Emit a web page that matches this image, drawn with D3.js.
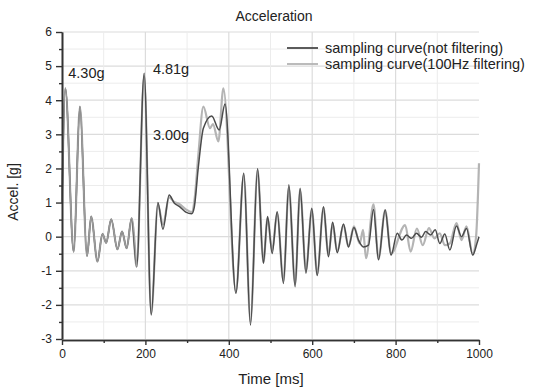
<!DOCTYPE html>
<html>
<head>
<meta charset="utf-8">
<script src="https://cdn.jsdelivr.net/npm/d3@7/dist/d3.min.js"></script>
<style>
  html, body { margin: 0; padding: 0; background: #fff; }
  svg { display: block; font-family: "Liberation Sans", Arial, sans-serif; }
</style>
</head>
<body>
<svg id="chart" width="540" height="389"></svg>
<script>
// ---- data ----
const timeNotFiltered = [0, 8, 28, 43, 60, 70, 85, 97, 106, 118, 133, 144, 155, 167, 179, 197, 214, 230, 242, 257, 269, 282, 297, 311, 317, 327, 339, 359, 377, 391, 417, 436, 452, 469, 483, 493, 504, 516, 531, 544, 559, 571, 585, 599, 612, 627, 639, 649, 660, 675, 687, 700, 711, 723, 735, 747, 759, 775, 789, 804, 815, 826, 838, 850, 862, 872, 884, 895, 906, 918, 930, 946, 958, 970, 985, 995, 1000];
const accelNotFiltered = [1.0, 4.35, -0.44, 3.81, -0.57, 0.59, -0.73, 0.08, -0.18, 0.51, -0.37, 0.15, -0.34, 0.54, -0.88, 4.79, -2.3, 1.0, 0.22, 1.22, 0.99, 0.88, 0.72, 0.67, 0.85, 2.05, 3.18, 3.54, 3.13, 3.89, -1.66, 1.86, -2.59, 2.0, -0.78, 0.59, -0.49, 0.73, -1.37, 1.52, -1.47, 1.42, -1.07, 0.83, -1.14, 0.88, -0.59, 0.42, -0.47, 0.37, -0.3, 0.27, -0.1, -0.3, -0.25, 0.8, -0.68, 0.78, -0.54, 0.1, -0.1, 0.05, -0.05, 0.1, -0.02, 0.15, 0.05, 0.2, -0.2, 0.08, -0.39, 0.31, 0.0, 0.24, -0.54, -0.2, 0.0];

const timeFiltered = [0, 8, 28, 43, 60, 70, 85, 97, 106, 118, 133, 144, 155, 167, 179, 197, 214, 230, 242, 257, 269, 282, 297, 311, 318, 327, 339, 355, 362, 375, 387, 417, 436, 452, 469, 483, 493, 504, 516, 531, 544, 559, 571, 585, 599, 612, 627, 639, 649, 660, 675, 687, 700, 714, 722, 729, 747, 759, 775, 789, 823, 836, 851, 865, 880, 893, 906, 918, 930, 946, 958, 970, 985, 993, 1000];
const accelFiltered = [1.0, 4.35, -0.44, 3.81, -0.57, 0.59, -0.73, 0.08, -0.18, 0.51, -0.37, 0.15, -0.34, 0.54, -0.88, 4.7, -2.25, 0.95, 0.35, 1.15, 1.02, 0.95, 0.8, 0.72, 1.1, 2.4, 3.81, 3.18, 3.3, 2.79, 4.35, -1.6, 1.8, -2.5, 1.95, -0.75, 0.55, -0.4, 0.7, -1.3, 1.45, -1.4, 1.38, -1.0, 0.8, -1.1, 0.85, -0.55, 0.4, -0.45, 0.35, -0.3, 0.3, -0.2, 0.2, -0.63, 0.95, -0.65, 0.78, -0.5, 0.34, -0.44, 0.24, -0.25, 0.25, -0.05, 0.1, -0.25, -0.2, 0.4, -0.1, 0.3, -0.5, 0.0, 2.15];

const yMajorTicks = [-3, -2, -1, 0, 1, 2, 3, 4, 5, 6];
const yMinorTicks = [-2.5, -1.5, -0.5, 0.5, 1.5, 2.5, 3.5, 4.5, 5.5];
const xMajorTicks = [0, 200, 400, 600, 800, 1000];
const xMinorTicks = [100, 300, 500, 700, 900];

const annotations = [
  { label: "4.30g", t: 15, v: 4.66 },
  { label: "4.81g", t: 218, v: 4.78 },
  { label: "3.00g", t: 218, v: 2.83 }
];
const seriesNames = ["sampling curve(not filtering)", "sampling curve(100Hz filtering)"];

// ---- chart ----
const svg = d3.select("#chart");
const x = d3.scaleLinear().domain([0, 1000]).range([62, 479]);
const y = d3.scaleLinear().domain([-3, 6]).range([339, 32]);

// grid
const grid = svg.append("g");
grid.selectAll("line.hmin").data(yMinorTicks).join("line")
  .attr("x1", x(0)).attr("x2", x(1000)).attr("y1", d => y(d)).attr("y2", d => y(d))
  .attr("stroke", "#ececec").attr("stroke-width", 1);
grid.selectAll("line.hmaj").data(yMajorTicks.filter(d => d > -3)).join("line")
  .attr("x1", x(0)).attr("x2", x(1000)).attr("y1", d => y(d)).attr("y2", d => y(d))
  .attr("stroke", "#dcdcdc").attr("stroke-width", 1.2);
grid.selectAll("line.vmin").data(xMinorTicks).join("line")
  .attr("x1", d => x(d)).attr("x2", d => x(d)).attr("y1", y(-3)).attr("y2", y(6))
  .attr("stroke", "#ececec").attr("stroke-width", 1);
grid.selectAll("line.vmaj").data(xMajorTicks.filter(d => d > 0 && d < 1000)).join("line")
  .attr("x1", d => x(d)).attr("x2", d => x(d)).attr("y1", y(-3)).attr("y2", y(6))
  .attr("stroke", "#dcdcdc").attr("stroke-width", 1.2);

// lines
const line = d3.line().x(d => x(d[0])).y(d => y(d[1])).curve(d3.curveMonotoneX);
const dataNF = timeNotFiltered.map((t, i) => [t, accelNotFiltered[i]]);
const dataF = timeFiltered.map((t, i) => [t, accelFiltered[i]]);
svg.append("path").datum(dataF).attr("d", line)
  .attr("fill", "none").attr("stroke", "#b4b4b4").attr("stroke-width", 2.2);
svg.append("path").datum(dataNF).attr("d", line)
  .attr("fill", "none").attr("stroke", "#4a4a4a").attr("stroke-width", 1.5);
// in the early part the filtered curve lies on top of the raw one
svg.append("path").datum(dataF.filter(d => d[0] <= 179)).attr("d", line)
  .attr("fill", "none").attr("stroke", "#a8a8a8").attr("stroke-width", 1.6).attr("opacity", 0.85);

// axes
function styleAxis(g) {
  g.selectAll("path.domain").attr("stroke", "#333").attr("stroke-width", 1.6);
  g.selectAll(".tick line").attr("stroke", "#333").attr("stroke-width", 1.4);
  g.selectAll(".tick text").attr("fill", "#222").style("font-size", "12px")
    .style("font-family", '"Liberation Sans", Arial, sans-serif');
}
const fmt = d => String(d);
const yAxisMinor = svg.append("g").attr("transform", `translate(${x(0)},0)`)
  .call(d3.axisLeft(y).tickValues(yMinorTicks).tickSize(3).tickSizeOuter(0).tickFormat(""));
styleAxis(yAxisMinor);
const yAxis = svg.append("g").attr("transform", `translate(${x(0)},0)`)
  .call(d3.axisLeft(y).tickValues(yMajorTicks).tickSize(6).tickSizeOuter(0).tickPadding(4).tickFormat(fmt));
styleAxis(yAxis);
const xAxisMinor = svg.append("g").attr("transform", `translate(0,${y(-3) + 1})`)
  .call(d3.axisBottom(x).tickValues(xMinorTicks).tickSize(3).tickSizeOuter(0).tickFormat(""));
styleAxis(xAxisMinor);
const xAxis = svg.append("g").attr("transform", `translate(0,${y(-3) + 1})`)
  .call(d3.axisBottom(x).tickValues(xMajorTicks).tickSize(5).tickSizeOuter(0).tickPadding(4).tickFormat(fmt));
styleAxis(xAxis);

// titles
svg.append("text").attr("x", 274).attr("y", 21).attr("text-anchor", "middle")
  .style("font-size", "14px").attr("fill", "#222").text("Acceleration");
svg.append("text").attr("x", 271).attr("y", 384).attr("text-anchor", "middle")
  .style("font-size", "15px").attr("fill", "#222").text("Time [ms]");
svg.append("text").attr("transform", "translate(18,192) rotate(-90)").attr("text-anchor", "middle")
  .style("font-size", "14px").attr("fill", "#222").text("Accel. [g]");

// annotations
svg.selectAll("text.ann").data(annotations).join("text")
  .attr("x", d => x(d.t)).attr("y", d => y(d.v))
  .style("font-size", "14.5px").attr("fill", "#222").text(d => d.label);

// legend
const legend = svg.append("g");
const legColors = ["#4a4a4a", "#b4b4b4"];
seriesNames.forEach((name, i) => {
  const ly = 48 + i * 16;
  legend.append("line").attr("x1", 287).attr("x2", 318).attr("y1", ly).attr("y2", ly)
    .attr("stroke", legColors[i]).attr("stroke-width", 1.8);
  legend.append("text").attr("x", 325).attr("y", ly + 5)
    .style("font-size", "14.5px").attr("fill", "#222").text(name);
});
</script>
</body>
</html>
